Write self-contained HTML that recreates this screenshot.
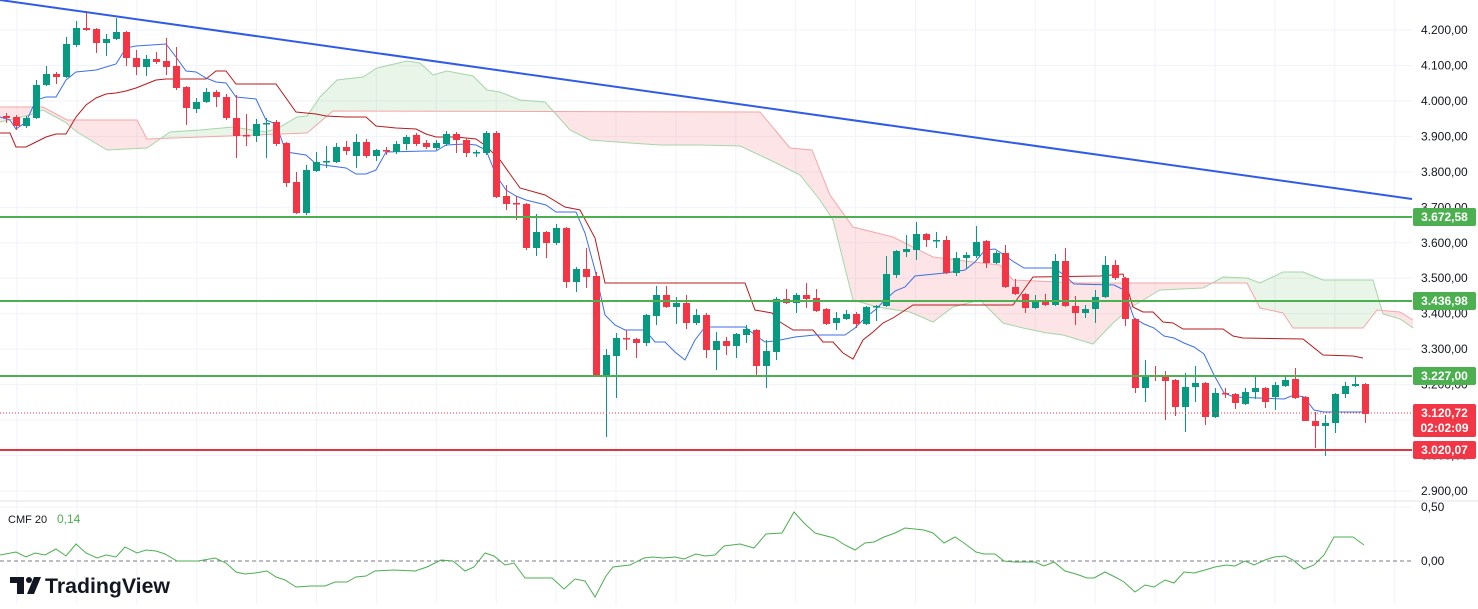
<!DOCTYPE html>
<html><head><meta charset="utf-8">
<style>
html,body{margin:0;padding:0;background:#fff;}
body{width:1478px;height:604px;overflow:hidden;font-family:"Liberation Sans",sans-serif;}
svg text{font-family:"Liberation Sans",sans-serif;}
</style></head>
<body>
<svg id="c" width="1478" height="604" viewBox="0 0 1478 604" xmlns="http://www.w3.org/2000/svg"></svg>
<script>
var s='';
function yp(p){return 30+(4200-p)*0.3546;}
for(var k=0;k<24;k++){var gx=17+59.9*k;if(gx<1412)s+='<line x1="'+gx+'" y1="0" x2="'+gx+'" y2="604" stroke="#f0f3fa" stroke-width="1"/>';}
for(var p=4200;p>=2900;p-=100){var y=yp(p);s+='<line x1="0" y1="'+y+'" x2="1412" y2="'+y+'" stroke="#f0f3fa"/>';}
s+='<line x1="0" y1="501" x2="1478" y2="501" stroke="#e0e3eb"/>';
s+='<line x1="0" y1="507" x2="1412" y2="507" stroke="#f0f3fa"/>';
function pts(a){return a.map(function(q){return q[0]+','+q[1];}).join(' ');}
var A=[[0,122],[30,115],[43,110],[65,122],[77,132],[107,150],[147,148],[170,132],[200,130],[233,127],[266,132],[280,127],[297,117],[307,116],[320,97],[337,80],[363,77],[377,68],[407,61],[420,63],[433,75],[447,71],[473,76],[487,90],[500,92],[520,100],[545,102],[570,130],[590,140],[630,143],[660,145],[700,145],[740,146],[770,160],[800,175],[820,200],[833,220],[853,300],[877,307],[910,312],[933,322],[953,307],[980,300],[1003,323],[1023,328],[1047,333],[1063,335],[1093,344],[1113,323],[1133,306],[1160,290],[1203,288],[1223,277],[1247,278],[1260,283],[1283,272],[1303,272],[1323,280],[1373,280],[1383,314],[1400,319],[1413,328]];
var B=[[0,107],[43,107],[67,120],[137,120],[147,139],[307,133],[333,111],[760,112],[775,130],[790,148],[812,150],[830,195],[853,227],[893,237],[933,257],[973,262],[1000,265],[1013,280],[1080,283],[1247,283],[1260,308],[1283,313],[1293,328],[1363,328],[1377,310],[1400,312],[1413,320]];
var poly=pts(A)+' '+pts(B.slice().reverse());
s+='<defs><clipPath id="aboveB"><polygon points="0,0 '+pts(B)+' 1413,0"/></clipPath><clipPath id="aboveA"><polygon points="0,0 '+pts(A)+' 1413,0"/></clipPath></defs>';
s+='<polygon points="'+poly+'" fill="rgba(76,175,80,0.13)" clip-path="url(#aboveB)"/>';
s+='<polygon points="'+poly+'" fill="rgba(242,54,69,0.13)" clip-path="url(#aboveA)"/>';
s+='<polyline points="'+pts(A)+'" fill="none" stroke="#a5d6a7" stroke-width="1"/>';
s+='<polyline points="'+pts(B)+'" fill="none" stroke="#f4a6a6" stroke-width="1"/>';
var K=[[0,133],[10,133],[16,147],[26,147],[36,142],[46,137],[56,134],[66,134],[76,117],[86,105],[96,98],[106,94],[116,93],[126,91],[136,88],[146,84],[156,80],[166,79],[206,79],[216,71],[226,71],[236,84],[276,84],[296,112],[306,113],[316,114],[326,116],[346,117],[366,117],[376,126],[386,127],[396,128],[416,129],[426,134],[436,137],[456,137],[476,139],[486,146],[500,160],[520,188],[545,195],[565,207],[580,210],[595,238],[605,283],[745,283],[755,310],[772,313],[780,322],[793,330],[813,330],[823,342],[833,342],[843,353],[853,359],[863,340],[873,332],[883,323],[893,318],[913,305],[1013,305],[1033,277],[1100,276],[1123,274],[1133,307],[1143,312],[1153,312],[1163,322],[1173,323],[1183,329],[1223,329],[1233,336],[1243,338],[1303,339],[1323,355],[1353,356],[1363,358]];
s+='<polyline points="'+pts(K)+'" fill="none" stroke="#b71c1c" stroke-width="1"/>';
var T=[[0,117],[10,120],[16,129],[26,122],[36,100],[46,97],[56,97],[66,80],[76,72],[96,70],[106,67],[116,64],[126,48],[136,46],[166,44],[176,57],[186,71],[196,72],[206,78],[216,82],[226,83],[236,97],[256,99],[266,120],[276,124],[286,152],[306,155],[316,164],[346,168],[356,174],[366,174],[376,170],[386,152],[426,151],[436,151],[446,145],[466,144],[476,145],[486,150],[496,175],[506,190],[516,196],[526,200],[546,205],[556,212],[576,212],[585,233],[595,270],[605,315],[615,325],[625,330],[645,330],[655,342],[665,342],[675,352],[685,360],[695,340],[705,327],[745,327],[755,335],[765,342],[775,341],[795,337],[815,335],[845,335],[855,328],[865,318],[875,310],[885,300],[895,291],[905,287],[915,276],[945,273],[965,270],[975,262],[985,250],[995,249],[1004,255],[1014,262],[1024,268],[1054,268],[1064,275],[1074,284],[1114,285],[1124,290],[1134,318],[1144,324],[1154,328],[1164,336],[1174,338],[1184,343],[1194,347],[1204,354],[1214,375],[1224,393],[1234,397],[1284,399],[1294,395],[1304,397],[1314,410],[1324,412],[1364,412]];
s+='<polyline points="'+pts(T)+'" fill="none" stroke="#3d6fe8" stroke-width="1"/>';
var C=[[6,116,118,113,123,'r'],[16,117,126,115,130,'r'],[26,118,126,116,128,'g'],[36,85,118,80,119,'g'],[46,74,85,66,86,'g'],[56,74,77,72,84,'r'],[66,44,77,37,78,'g'],[76,28,45,21,47,'g'],[86,28,30,11,31,'r'],[96,29,43,28,53,'r'],[106,39,43,34,56,'g'],[116,32,39,18,40,'g'],[126,32,58,31,66,'r'],[136,58,67,50,75,'r'],[146,59,67,55,76,'g'],[156,59,62,52,64,'r'],[166,61,67,38,75,'r'],[176,66,88,47,90,'r'],[186,87,108,86,125,'r'],[196,102,109,98,113,'g'],[206,92,102,88,103,'g'],[216,92,97,90,107,'r'],[226,97,118,94,120,'r'],[236,118,136,95,158,'r'],[246,135,136,114,146,'r'],[256,124,136,119,142,'g'],[266,123,124,118,158,'g'],[276,122,144,120,146,'r'],[286,143,183,142,187,'r'],[296,182,213,172,214,'r'],[306,170,213,165,215,'g'],[316,162,171,152,172,'g'],[326,161,162,146,168,'g'],[336,147,162,143,163,'g'],[346,147,151,141,155,'r'],[356,142,156,134,168,'g'],[366,142,156,139,158,'r'],[376,150,156,149,161,'g'],[386,150,151,147,155,'r'],[396,144,152,141,154,'g'],[406,137,144,135,150,'g'],[416,135,144,133,146,'r'],[426,143,147,140,149,'r'],[436,143,148,140,150,'g'],[446,134,144,131,146,'g'],[456,134,140,132,153,'r'],[466,140,153,138,157,'r'],[476,152,153,150,157,'g'],[486,133,153,131,155,'g'],[496,133,197,131,198,'r'],[506,196,204,185,210,'r'],[516,203,204,196,220,'r'],[526,204,248,203,250,'r'],[536,232,248,214,256,'g'],[546,232,243,231,258,'r'],[556,228,243,224,245,'g'],[566,228,282,227,288,'r'],[576,269,282,267,292,'g'],[586,269,277,248,288,'r'],[596,276,376,272,377,'r'],[606,355,376,349,437,'g'],[616,338,356,333,398,'g'],[626,338,339,330,350,'r'],[636,339,343,338,358,'r'],[646,315,343,314,346,'g'],[656,295,316,286,325,'g'],[666,295,307,286,308,'r'],[676,303,307,297,324,'g'],[686,303,323,295,329,'r'],[696,315,323,309,325,'g'],[706,315,350,313,358,'r'],[716,341,350,332,370,'g'],[726,341,346,337,355,'r'],[736,334,346,333,358,'g'],[746,329,335,325,343,'g'],[756,330,366,329,376,'r'],[766,351,366,340,388,'g'],[776,299,352,297,360,'g'],[786,299,303,289,304,'r'],[796,295,303,293,313,'g'],[806,295,299,283,308,'r'],[816,298,311,289,312,'r'],[826,309,324,308,325,'r'],[836,318,323,312,330,'g'],[846,314,319,310,320,'g'],[856,314,324,312,328,'r'],[866,307,324,306,325,'g'],[876,306,307,305,321,'g'],[886,274,306,256,307,'g'],[896,251,275,250,278,'g'],[906,249,252,235,257,'g'],[916,234,250,222,260,'g'],[926,234,240,233,247,'r'],[936,240,241,232,248,'g'],[946,240,273,236,274,'r'],[956,258,273,252,276,'g'],[966,255,258,252,269,'g'],[976,242,256,226,258,'g'],[986,241,263,240,268,'r'],[996,253,263,251,264,'g'],[1005,253,287,245,288,'r'],[1015,287,294,279,295,'r'],[1025,294,308,293,313,'r'],[1035,302,308,295,309,'g'],[1045,302,305,294,306,'r'],[1055,261,305,254,306,'g'],[1065,261,306,248,307,'r'],[1075,306,313,296,325,'r'],[1085,309,313,305,318,'g'],[1095,297,309,290,323,'g'],[1105,265,297,256,298,'g'],[1115,265,278,260,280,'r'],[1125,278,319,277,326,'r'],[1135,319,388,318,393,'r'],[1145,375,388,360,402,'g'],[1155,375,376,366,381,'r'],[1165,376,381,371,420,'r'],[1175,380,407,379,416,'r'],[1185,387,407,373,432,'g'],[1195,383,387,366,402,'g'],[1205,383,417,382,425,'r'],[1215,393,417,388,418,'g'],[1225,393,394,388,398,'r'],[1235,394,403,393,409,'r'],[1245,392,404,388,405,'g'],[1255,388,392,375,399,'g'],[1265,388,402,387,408,'r'],[1275,385,397,382,410,'g'],[1285,380,386,376,387,'g'],[1295,379,398,368,399,'r'],[1305,397,421,396,421,'r'],[1315,421,426,412,448,'r'],[1325,423,426,415,456,'g'],[1335,394,423,393,433,'g'],[1345,386,394,382,398,'g'],[1355,384,386,376,387,'g'],[1365,384,414,383,423,'r']];
C.forEach(function(c){var col=c[5]=='g'?'#089981':'#f23645';var h=Math.max(1.5,c[2]-c[1]);
s+='<line x1="'+(c[0]+0.5)+'" y1="'+c[3]+'" x2="'+(c[0]+0.5)+'" y2="'+c[4]+'" stroke="'+col+'" stroke-width="1"/>';
s+='<rect x="'+(c[0]-3)+'" y="'+c[1]+'" width="7" height="'+h+'" fill="'+col+'"/>';});
s+='<line x1="0" y1="217" x2="1412" y2="217" stroke="#4caf50" stroke-width="2"/>';
s+='<line x1="0" y1="301" x2="1412" y2="301" stroke="#4caf50" stroke-width="2"/>';
s+='<line x1="0" y1="376" x2="1412" y2="376" stroke="#4caf50" stroke-width="2"/>';
s+='<line x1="0" y1="450" x2="1412" y2="450" stroke="#e03340" stroke-width="2"/>';
s+='<line x1="0" y1="413" x2="1412" y2="413" stroke="#f23645" stroke-width="1" stroke-dasharray="1,2"/>';
s+='<line x1="0" y1="0" x2="1412" y2="199" stroke="#2f5be8" stroke-width="2"/>';
var labs=[[4200,'4.200,00'],[4100,'4.100,00'],[4000,'4.000,00'],[3900,'3.900,00'],[3800,'3.800,00'],[3700,'3.700,00'],[3600,'3.600,00'],[3500,'3.500,00'],[3400,'3.400,00'],[3300,'3.300,00'],[3200,'3.200,00'],[3000,'3.000,00'],[2900,'2.900,00']];
labs.forEach(function(l){s+='<text x="1421" y="'+(yp(l[0])+4)+'" font-size="12" fill="#131722">'+l[1]+'</text>';});
function box(y,h,col,t,t2){s+='<rect x="1413" y="'+y+'" width="63" height="'+h+'" rx="2" fill="'+col+'"/>';s+='<text x="1444.5" y="'+(y+13)+'" font-size="12" font-weight="bold" fill="#fff" text-anchor="middle">'+t+'</text>';if(t2)s+='<text x="1444.5" y="'+(y+28)+'" font-size="12" font-weight="bold" fill="#fff" text-anchor="middle">'+t2+'</text>';}
box(208,18,'#4caf50','3.672,58');
box(292,18,'#4caf50','3.436,98');
box(367,18,'#4caf50','3.227,00');
box(404,33,'#f23645','3.120,72','02:02:09');
box(441,18,'#f23645','3.020,07');
s+='<line x1="0" y1="561" x2="1412" y2="561" stroke="#787b86" stroke-width="1" stroke-dasharray="4,3"/>';
var M=[[0,555],[16,552],[26,557],[35,553],[45,555],[56,549],[66,556],[76,544],[86,553],[97,558],[106,555],[116,557],[125,547],[137,553],[146,550],[156,551],[165,554],[177,561],[198,561],[215,558],[226,563],[236,572],[245,574],[255,573],[267,571],[276,577],[285,580],[296,587],[311,586],[325,586],[335,582],[347,582],[356,577],[366,576],[375,571],[394,570],[415,571],[427,567],[441,560],[453,561],[465,571],[474,567],[485,553],[494,556],[505,565],[514,563],[525,578],[552,578],[564,589],[575,579],[585,581],[595,597],[606,576],[613,567],[630,565],[644,558],[653,557],[663,558],[675,557],[684,559],[696,554],[705,556],[715,555],[724,546],[740,544],[754,548],[766,534],[782,533],[794,512],[804,523],[815,533],[834,538],[845,545],[855,550],[865,543],[874,542],[884,537],[895,533],[905,528],[924,530],[933,533],[944,543],[955,537],[964,543],[976,552],[984,554],[995,554],[1004,561],[1014,562],[1035,562],[1044,566],[1054,562],[1065,571],[1076,574],[1087,578],[1094,578],[1105,572],[1115,577],[1124,582],[1135,592],[1145,585],[1154,587],[1165,580],[1174,583],[1184,572],[1194,573],[1205,570],[1215,567],[1226,565],[1235,566],[1245,561],[1254,565],[1265,560],[1274,557],[1285,556],[1293,560],[1304,569],[1314,565],[1324,555],[1334,537],[1353,537],[1364,545]];
s+='<polyline points="'+pts(M)+'" fill="none" stroke="#4caf50" stroke-width="1"/>';
s+='<text x="8" y="523" font-size="11" fill="#131722">CMF 20</text><text x="57" y="523" font-size="12" fill="#4caf50">0,14</text>';
s+='<text x="1421" y="511" font-size="12" fill="#131722">0,50</text><text x="1421" y="565" font-size="12" fill="#131722">0,00</text>';
s+='<rect x="10" y="577" width="14" height="6" fill="#131722"/><rect x="17" y="577" width="7" height="17" fill="#131722"/><circle cx="29" cy="580" r="3" fill="#131722"/><polygon points="34,577 41,577 34,594 27,594" fill="#131722"/>';
s+='<text x="45" y="593" font-size="21" font-weight="bold" fill="#131722" textLength="125" lengthAdjust="spacingAndGlyphs">TradingView</text>';
document.getElementById('c').innerHTML=s;
</script>
</body></html>
